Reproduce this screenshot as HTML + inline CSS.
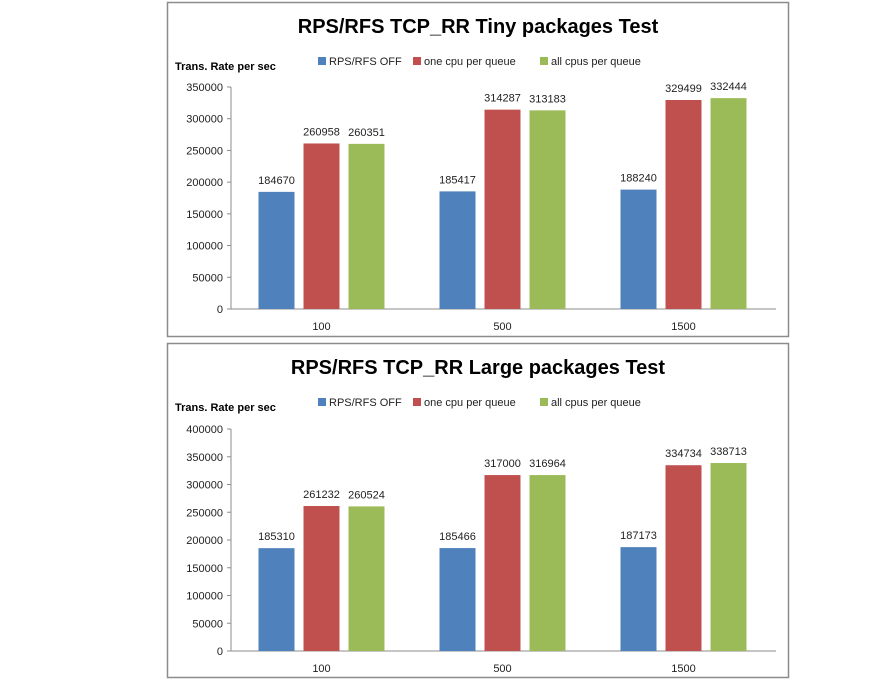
<!DOCTYPE html>
<html><head><meta charset="utf-8"><style>
body{margin:0;background:#fff;}
svg text{font-family:"Liberation Sans",sans-serif;}
</style></head><body>
<svg width="892" height="684" xmlns="http://www.w3.org/2000/svg" id="svg"></svg>
<script>
const categories=["100","500","1500"];
const seriesNames=["RPS/RFS OFF","one cpu per queue","all cpus per queue"];
const colors=["#4f81bd","#c0504d","#9bbb59"];
const tinyOff=[184670,185417,188240];
const tinyOne=[260958,314287,329499];
const tinyAll=[260351,313183,332444];
const largeOff=[185310,185466,187173];
const largeOne=[261232,317000,334734];
const largeAll=[260524,316964,338713];
const tinyTicks=[0,50000,100000,150000,200000,250000,300000,350000];
const largeTicks=[0,50000,100000,150000,200000,250000,300000,350000,400000];
const svg=document.getElementById('svg');
const NS="http://www.w3.org/2000/svg";
function mk(tag,attrs,parent,txt){const e=document.createElementNS(NS,tag);for(const k in attrs)e.setAttribute(k,attrs[k]);if(txt!==undefined)e.textContent=txt;parent.appendChild(e);return e;}
function chart(name,title,oy,series,ticks,y0,yTop){
  const g=mk('g',{},svg);
  
  
  const box=mk('rect',{x:167.5,y:oy+0.5,width:621,height:334,fill:'#fff',stroke:'#8c8c8c','stroke-width':1.5},g);
  
  const t=mk('text',{x:478,y:oy+31,'text-anchor':'middle','font-size':20,'font-weight':'bold',fill:'#000'},g,title);
  
  const yl=mk('text',{x:175,y:oy+68,'font-size':11,'font-weight':'bold',fill:'#000'},g,'Trans.  Rate per sec');
  
  const lx=[318,413,540];
  seriesNames.forEach((n,i)=>{
    const lg=mk('g',{},g);
    
    mk('rect',{x:lx[i],y:oy+55,width:8,height:8,fill:colors[i]},lg);
    mk('text',{x:lx[i]+11,y:oy+63,'font-size':11,fill:'#222'},lg,n);
  });
  const max=ticks[ticks.length-1];
  const Y=v=>y0-(v/max)*(y0-yTop);
  const x0=231,x1=774,cw=(x1-x0)/categories.length;
  mk('line',{x1:x0,y1:yTop,x2:x0,y2:y0,stroke:'#8c8c8c'},g);
  mk('line',{x1:x0,y1:y0,x2:776,y2:y0,stroke:'#8c8c8c'},g);
  ticks.forEach(v=>{
    mk('line',{x1:x0-4,y1:Y(v),x2:x0,y2:Y(v),stroke:'#8c8c8c'},g);
    const tl=mk('text',{x:x0-8,y:Y(v)+4,'text-anchor':'end','font-size':11,fill:'#222'},g,String(v));
    
  });
  const bw=36,gap=9;
  categories.forEach((c,ci)=>{
    const cx=x0+cw*(ci+0.5);
    const cl=mk('text',{x:cx,y:y0+21,'text-anchor':'middle','font-size':11,fill:'#222'},g,c);
    
    series.forEach((s,si)=>{
      const bx=cx-bw*1.5-gap+si*(bw+gap);
      const b=mk('rect',{x:bx,y:Y(s[ci]),width:bw,height:y0-Y(s[ci]),fill:colors[si]},g);
      
      const vl=mk('text',{x:bx+bw/2,y:Y(s[ci])-8,'text-anchor':'middle','font-size':11,fill:'#222'},g,String(s[ci]));
      
    });
  });
}
chart('tiny-packages-chart','RPS/RFS TCP_RR Tiny packages Test',2,[tinyOff,tinyOne,tinyAll],tinyTicks,309,87);
chart('large-packages-chart','RPS/RFS TCP_RR Large packages Test',343,[largeOff,largeOne,largeAll],largeTicks,651,429);
</script>
</body></html>
